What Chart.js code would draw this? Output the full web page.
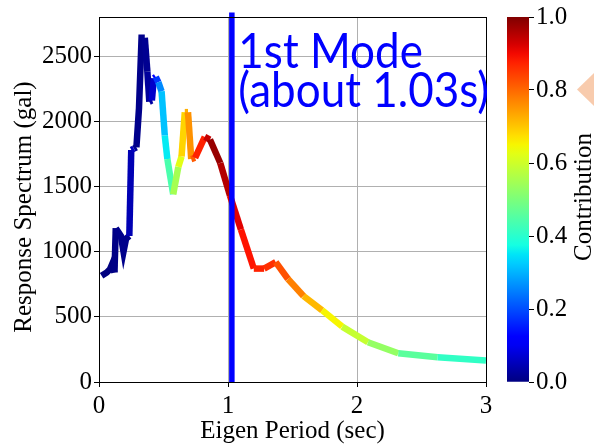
<!DOCTYPE html>
<html>
<head>
<meta charset="utf-8">
<script src="https://cdn.jsdelivr.net/npm/chart.js@4.4.1/dist/chart.umd.min.js"></script>
<style>
  html, body { margin: 0; padding: 0; background: #fff; }
  #wrap { position: relative; width: 594px; height: 446px; overflow: hidden; }
  #wrap canvas { position: absolute; left: 0; top: 0; }
  #marker {
    position: absolute; left: 577px; top: 73px; width: 17px; height: 33px;
    background: #F8CBAD; clip-path: polygon(0 50%, 100% 0, 100% 100%);
  }
</style>
</head>
<body>
<div id="wrap">
  <canvas id="spec" width="594" height="446"></canvas>
  <canvas id="cbar" width="594" height="446"></canvas>
  <div id="marker"></div>
</div>
<script>
// Response spectrum: eigen period (s), spectral acceleration (gal), modal contribution (0-1)
const periods = [0.02, 0.06, 0.085, 0.10, 0.12, 0.13, 0.15, 0.17, 0.19, 0.21, 0.235, 0.25, 0.27, 0.29,
  0.31, 0.33, 0.355, 0.375, 0.39, 0.41, 0.425, 0.44, 0.46, 0.485, 0.51, 0.53, 0.575, 0.615, 0.64,
  0.665, 0.69, 0.715, 0.745, 0.82, 0.86, 0.94, 1.015, 1.1, 1.2, 1.28, 1.37, 1.465, 1.585, 1.73,
  1.885, 2.085, 2.32, 2.625, 3.0];
const spectrum = [815, 840, 865, 900, 840, 1180, 1150, 1120, 1000, 1100, 1120, 1780, 1790, 1800,
  2100, 2640, 2640, 2380, 2150, 2160, 2330, 2340, 2300, 2230, 1890, 1710, 1440, 1650, 1730,
  2070, 2070, 1710, 1720, 1880, 1860, 1680, 1430, 1170, 870, 870, 920, 790, 660, 550,
  425, 305, 220, 190, 165];
const contribution = [0.0, 0.0, 0.0, 0.0, 0.0, 0.01, 0.01, 0.01, 0.01, 0.01, 0.01, 0.08, 0.03, 0.01,
  0.01, 0.01, 0.01, 0.02, 0.03, 0.03, 0.1, 0.14, 0.22, 0.30, 0.33, 0.38, 0.50, 0.60, 0.65,
  0.72, 0.73, 0.78, 0.85, 0.90, 0.98, 0.98, 0.93, 0.90, 0.88, 0.87, 0.85, 0.80, 0.75, 0.68,
  0.62, 0.56, 0.50, 0.42, 0.40];

const xTicks = [0, 1, 2, 3];
const yTicks = [0, 500, 1000, 1500, 2000, 2500];
const cbTicks = [0, 0.2, 0.4, 0.6, 0.8, 1.0];
const firstModePeriod = 1.03;
const modeLabel = ['1st Mode', '(about 1.03s)'];
const modeLabelAt = { x: 1.08, y: 2410 };

// matplotlib "jet" colormap
const JET = {
  r: [[0, 0], [0.35, 0], [0.66, 1], [0.89, 1], [1, 0.5]],
  g: [[0, 0], [0.125, 0], [0.375, 1], [0.64, 1], [0.91, 0], [1, 0]],
  b: [[0, 0.5], [0.11, 1], [0.34, 1], [0.65, 0], [1, 0]]
};
function interp(pts, v) {
  for (let i = 1; i < pts.length; i++) {
    if (v <= pts[i][0]) {
      const [x0, y0] = pts[i - 1], [x1, y1] = pts[i];
      return y0 + (y1 - y0) * (v - x0) / (x1 - x0);
    }
  }
  return pts[pts.length - 1][1];
}
function jet(v) {
  v = Math.max(0, Math.min(1, v));
  const c = k => Math.round(255 * interp(JET[k], v));
  return `rgb(${c('r')},${c('g')},${c('b')})`;
}

const SERIF = '"Liberation Serif", "Times New Roman", serif';
Chart.defaults.font.family = SERIF;
Chart.defaults.font.size = 25;
Chart.defaults.color = '#000';
const serifFont = () => ({ family: SERIF, size: 25 });
const fixTicks = list => scale => { scale.ticks = list.map(v => ({ value: v })); };

const framePlugin = {
  id: 'frame',
  afterDatasetsDraw(chart) {
    const { ctx, chartArea: a } = chart;
    ctx.save();
    ctx.strokeStyle = '#000';
    ctx.lineWidth = 1;
    ctx.strokeRect(Math.round(a.left) + 0.5, Math.round(a.top) + 0.5,
      Math.round(a.right - a.left), Math.round(a.bottom - a.top));
    ctx.restore();
  },
  afterDraw(chart) {
    const { ctx, scales: { x, y } } = chart;
    ctx.save();
    // mode annotation
    ctx.fillStyle = '#0000ff';
    ctx.font = '44px Lato';
    ctx.textBaseline = 'alphabetic';
    const px = x.getPixelForValue(modeLabelAt.x);
    const py = y.getPixelForValue(modeLabelAt.y);
    modeLabel.forEach((t, i) => {
      ctx.save();
      ctx.translate(px, py + i * 39);
      ctx.scale(1, 1.1);
      ctx.fillText(t, 0, 0);
      ctx.restore();
    });
    // y-axis title
    ctx.fillStyle = '#000';
    ctx.font = `25px ${SERIF}`;
    ctx.textAlign = 'center';
    ctx.textBaseline = 'middle';
    ctx.translate(24, 207);
    ctx.rotate(-Math.PI / 2);
    ctx.fillText('Response Spectrum (gal)', 0, 0);
    ctx.restore();
  }
};

new Chart(document.getElementById('spec'), {
  type: 'scatter',
  data: {
    datasets: [
      {
        data: [{ x: firstModePeriod, y: 0 }, { x: firstModePeriod, y: 2835 }],
        showLine: true, borderColor: '#0000ff', borderWidth: 5.5, pointRadius: 0,
        clip: 12, order: 0, borderCapStyle: 'butt'
      },
      {
        data: periods.map((p, i) => ({ x: p, y: spectrum[i] })),
        showLine: true, borderWidth: 6.5, pointRadius: 0, order: 1,
        borderCapStyle: 'butt', borderJoinStyle: 'miter',
        segment: {
          borderColor: c => jet((contribution[c.p0DataIndex] + contribution[c.p1DataIndex]) / 2)
        }
      }
    ]
  },
  options: {
    responsive: false, animation: false, devicePixelRatio: 1,
    layout: { padding: { top: 13, right: 108, left: 0, bottom: 0 } },
    plugins: { legend: { display: false }, tooltip: { enabled: false } },
    scales: {
      x: {
        type: 'linear', min: 0, max: 3,
        afterBuildTicks: fixTicks(xTicks),
        afterFit: s => { s.height = 64; },
        grid: { color: '#b0b0b0', lineWidth: 1, tickColor: '#000', tickLength: 5 },
        border: { color: '#000', width: 1 },
        ticks: { font: serifFont(), color: '#000', padding: 4, maxRotation: 0, callback: v => String(v) },
        title: { display: true, text: 'Eigen Period (sec)', font: serifFont(), color: '#000', padding: { top: 0, bottom: 0 } }
      },
      y: {
        type: 'linear', min: 0, max: 2800,
        afterBuildTicks: fixTicks(yTicks),
        afterFit: s => { s.width = 99; },
        grid: { color: '#b0b0b0', lineWidth: 1, tickColor: '#000', tickLength: 5 },
        border: { color: '#000', width: 1 },
        ticks: { font: serifFont(), color: '#000', padding: 2, callback: v => String(v) }
      }
    }
  },
  plugins: [framePlugin]
});

// colour bar
const cbPlugin = {
  id: 'cbTitle',
  afterDraw(chart) {
    const { ctx } = chart;
    ctx.save();
    ctx.fillStyle = '#000';
    ctx.font = `25px ${SERIF}`;
    ctx.textAlign = 'center';
    ctx.textBaseline = 'middle';
    ctx.translate(584, 197);
    ctx.rotate(-Math.PI / 2);
    ctx.fillText('Contribution', 0, 0);
    ctx.restore();
  }
};

new Chart(document.getElementById('cbar'), {
  type: 'bar',
  data: {
    labels: ['c'],
    datasets: [{
      data: [[0, 1]],
      barPercentage: 1, categoryPercentage: 1, borderWidth: 0,
      backgroundColor: ctx => {
        const a = ctx.chart.chartArea;
        if (!a) return '#000';
        const g = ctx.chart.ctx.createLinearGradient(0, a.bottom, 0, a.top);
        for (let i = 0; i <= 40; i++) g.addColorStop(i / 40, jet(i / 40));
        return g;
      }
    }]
  },
  options: {
    responsive: false, animation: false, devicePixelRatio: 1,
    layout: { padding: { top: 13, right: 0, left: 507, bottom: 64 } },
    plugins: { legend: { display: false }, tooltip: { enabled: false } },
    scales: {
      x: { display: false },
      y: {
        position: 'right', min: 0, max: 1,
        afterBuildTicks: fixTicks(cbTicks),
        afterFit: s => { s.width = 65; },
        grid: { drawOnChartArea: false, tickColor: '#000', tickLength: 5 },
        border: { display: false },
        ticks: { font: serifFont(), color: '#000', padding: 2, callback: v => v.toFixed(1) }
      }
    }
  },
  plugins: [cbPlugin]
});
</script>
</body>
</html>
